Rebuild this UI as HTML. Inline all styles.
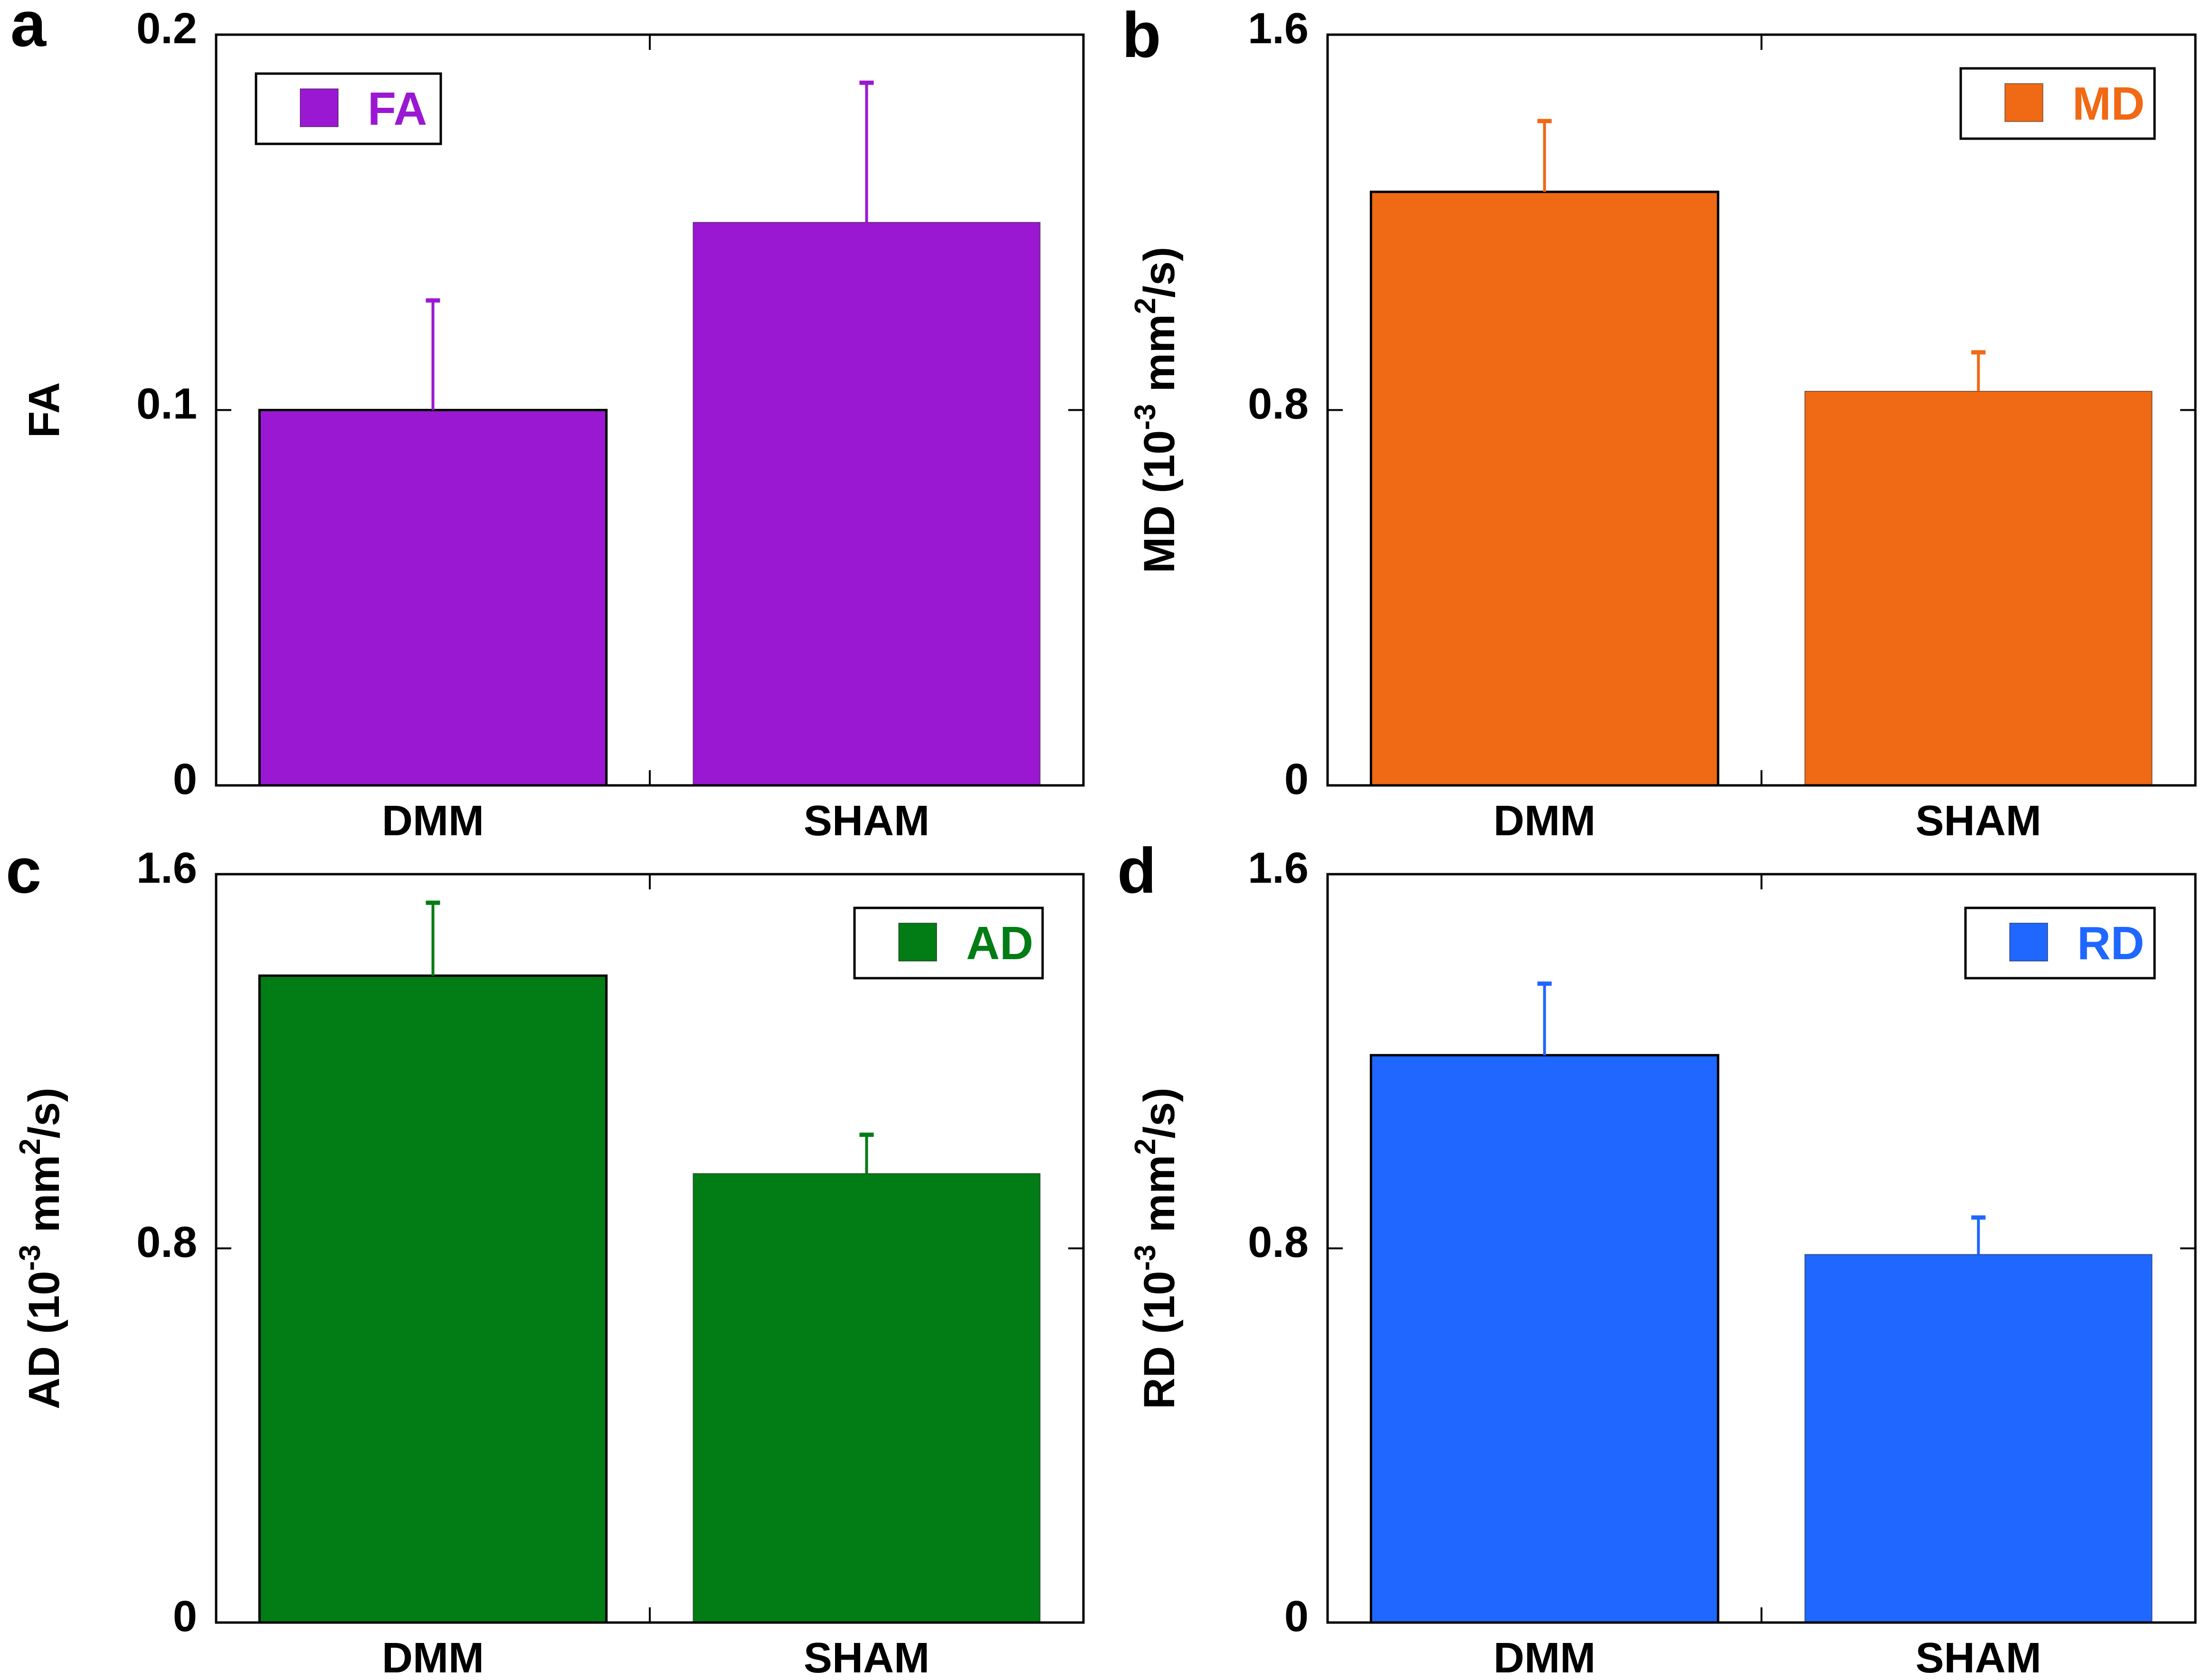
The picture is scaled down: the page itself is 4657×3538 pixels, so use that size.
<!DOCTYPE html>
<html><head><meta charset="utf-8"><title>DTI metrics DMM vs SHAM</title>
<style>
html,body{margin:0;padding:0;background:#fff;}
svg{display:block;}
text{font-family:"Liberation Sans",Arial,sans-serif;font-weight:bold;}
</style></head>
<body>
<svg id="fig" width="4657" height="3538" viewBox="0 0 4657 3538" xmlns="http://www.w3.org/2000/svg"></svg>
<script>
const categories = ["DMM", "SHAM"];
const faValues = [0.1, 0.150];
const faErrors = [0.0297, 0.0377];
const mdValues = [1.265, 0.840];
const mdErrors = [0.155, 0.087];
const adValues = [1.383, 0.960];
const adErrors = [0.160, 0.087];
const rdValues = [1.213, 0.787];
const rdErrors = [0.157, 0.083];
const faTicks = ["0", "0.1", "0.2"];
const diffTicks = ["0", "0.8", "1.6"];

const svgNS = "http://www.w3.org/2000/svg";
const fig = document.getElementById("fig");
function mk(tag, attrs, parent){
  const e = document.createElementNS(svgNS, tag);
  for (const k in attrs) e.setAttribute(k, attrs[k]);
  (parent || fig).appendChild(e);
  return e;
}

const panels = [
  {id:"fa", letter:"a", lx:22, ly:97, x0:455, x1:2281, y0:73, y1:1654, vals:faValues, errs:faErrors, ticks:faTicks, ymax:0.2,
   color:"#9b18d3", label:"FA", ylabX:92, legendLeft:true, legW:389},
  {id:"md", letter:"b", lx:2362, ly:120, x0:2795, x1:4622, y0:73, y1:1654, vals:mdValues, errs:mdErrors, ticks:diffTicks, ymax:1.6,
   color:"#f06914", label:"MD", ylabX:2440, legendLeft:false, legW:408},
  {id:"ad", letter:"c", lx:12, ly:1880, x0:455, x1:2281, y0:1841, y1:3417, vals:adValues, errs:adErrors, ticks:diffTicks, ymax:1.6,
   color:"#027c15", label:"AD", ylabX:92, legendLeft:false, legW:396},
  {id:"rd", letter:"d", lx:2352, ly:1880, x0:2795, x1:4622, y0:1841, y1:3417, vals:rdValues, errs:rdErrors, ticks:diffTicks, ymax:1.6,
   color:"#1f67ff", label:"RD", ylabX:2440, legendLeft:false, legW:398}
];

panels.forEach(p => {
  const g = mk("g", {});
  
  
  const W = p.x1 - p.x0;
  const yScale = v => p.y1 - (v / p.ymax) * (p.y1 - p.y0);
  const slot = W / categories.length;
  const xCenter = i => p.x0 + slot * (i + 0.5);
  const barW = 0.8 * slot;

  const lt = mk("text", {x:p.lx, y:p.ly, "font-size":135, fill:"#000"}, g);
  lt.textContent = p.letter;
  
  

  categories.forEach((c, i) => {
    const top = yScale(p.vals[i]);
    const bar = mk("rect", {x:xCenter(i) - barW/2, y:top, width:barW, height:p.y1 - top,
      fill:p.color, stroke: i === 0 ? "#000" : "rgba(0,0,0,0.45)", "stroke-width": i === 0 ? 5 : 2}, g);
    
    
    const et = yScale(p.vals[i] + p.errs[i]);
    const eb = mk("line", {x1:xCenter(i), x2:xCenter(i), y1:top, y2:et, stroke:p.color, "stroke-width":6}, g);
    
    
    const cap = mk("line", {x1:xCenter(i) - 15, x2:xCenter(i) + 15, y1:et + 4, y2:et + 4, stroke:p.color, "stroke-width":9}, g);
    
    
    const cl = mk("text", {x:xCenter(i), y:p.y1 + 105, "font-size":90, "text-anchor":"middle", fill:"#000"}, g);
    cl.textContent = c;
    
    
  });

  const fr = mk("rect", {x:p.x0, y:p.y0, width:W, height:p.y1 - p.y0, fill:"none", stroke:"#000", "stroke-width":5}, g);
  
  
  const mx = p.x0 + W / 2;
  mk("line", {x1:mx, x2:mx, y1:p.y0, y2:p.y0 + 32, stroke:"#000", "stroke-width":4}, g);
  mk("line", {x1:mx, x2:mx, y1:p.y1, y2:p.y1 - 32, stroke:"#000", "stroke-width":4}, g);

  p.ticks.forEach(t => {
    const y = yScale(parseFloat(t));
    if (parseFloat(t) > 0 && parseFloat(t) < p.ymax) {
      mk("line", {x1:p.x0, x2:p.x0 + 32, y1:y, y2:y, stroke:"#000", "stroke-width":4}, g);
      mk("line", {x1:p.x1, x2:p.x1 - 32, y1:y, y2:y, stroke:"#000", "stroke-width":4}, g);
    }
    const tl = mk("text", {x:p.x0 - 40, y:y + 18, "font-size":92, "text-anchor":"end", fill:"#000"}, g);
    tl.textContent = t;
    
    
  });

  const cy = (p.y0 + p.y1) / 2;
  const yt = mk("text", {x:p.ylabX + 32, y:cy, "font-size":92, "text-anchor":"middle", fill:"#000",
    transform:"rotate(-90 " + (p.ylabX + 32) + " " + cy + ")"}, g);
  if (p.id === "fa") {
    yt.textContent = "FA";
  } else {
    yt.appendChild(document.createTextNode(p.label + " (10"));
    const s1 = mk("tspan", {dy:-40, "font-size":62}, yt); s1.textContent = "-3";
    const s2 = mk("tspan", {dy:40}, yt); s2.textContent = " mm";
    const s3 = mk("tspan", {dy:-40, "font-size":62}, yt); s3.textContent = "2";
    const s4 = mk("tspan", {dy:40}, yt); s4.textContent = "/s)";
  }
  
  

  const lx = p.legendLeft ? p.x0 + 84 : p.x1 - 86 - p.legW;
  const ly = p.legendLeft ? p.y0 + 82 : p.y0 + 71;
  const lg = mk("g", {}, g);
  
  
  mk("rect", {x:lx, y:ly, width:p.legW, height:148, fill:"#fff", stroke:"#000", "stroke-width":5}, lg);
  const sw = mk("rect", {x:lx + 93, y:ly + 32, width:80, height:80, fill:p.color, stroke:"rgba(0,0,0,0.4)", "stroke-width":2}, lg);
  
  
  const ltx = mk("text", {x:lx + 235, y:ly + 108, "font-size":98, fill:p.color}, lg);
  ltx.textContent = p.label;
  
  
});
</script>
</body></html>
